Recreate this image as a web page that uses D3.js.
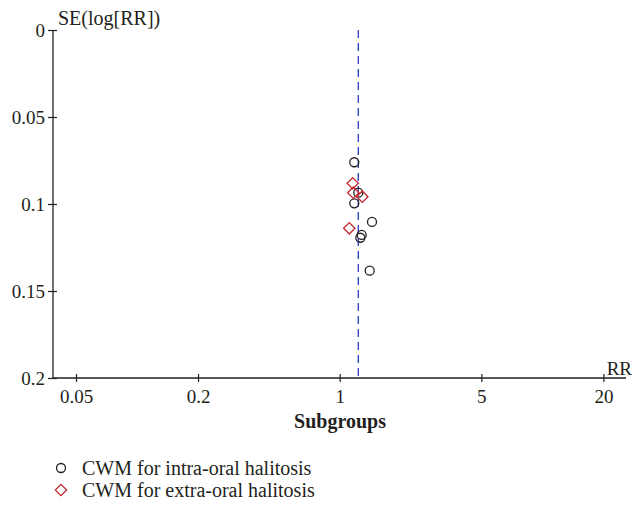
<!DOCTYPE html>
<html>
<head>
    <title>Funnel Plot</title>
    <script src="https://cdnjs.cloudflare.com/ajax/libs/d3/7.8.5/d3.min.js"></script>
    <style>
        html, body {
            margin: 0;
            padding: 0;
            background: #ffffff;
        }
        svg text {
            font-family: "Liberation Serif", "DejaVu Serif", serif;
            fill: #231f20;
        }
    </style>
</head>
<body>
    <div id="chart"></div>
    <script>
        // subgroup 1: CWM for intra-oral halitosis
        const intraRR = [1.18, 1.235, 1.18, 1.443, 1.284, 1.264, 1.406];
        const intraSE = [0.0760, 0.0935, 0.0996, 0.1103, 0.1178, 0.1194, 0.1383];
        // subgroup 2: CWM for extra-oral halitosis
        const extraRR = [1.159, 1.167, 1.293, 1.115];
        const extraSE = [0.0881, 0.0935, 0.0958, 0.1140];
        // pooled estimate
        const pooledRR = 1.235;

        const xTicks = [0.05, 0.2, 1, 5, 20];
        const yTicks = [0, 0.05, 0.1, 0.15, 0.2];
        const legendLabels = ["CWM for intra-oral halitosis", "CWM for extra-oral halitosis"];

        const width = 635, height = 508;
        const axisColor = "#231f20";

        const svg = d3.select("#chart")
            .append("svg")
            .attr("width", width)
            .attr("height", height);

        const x = d3.scaleLog()
            .domain([0.05, 20])
            .range([76, 603.4]);

        const y = d3.scaleLinear()
            .domain([0, 0.2])
            .range([30, 378]);

        const axisLeftX = 53;
        const axisRightX = 626;

        // x axis
        const xAxis = d3.axisBottom(x)
            .tickValues(xTicks)
            .tickFormat(d => String(d))
            .tickSize(4);

        const gx = svg.append("g")
            .attr("transform", "translate(0," + y(0.2) + ")")
            .call(xAxis);
        gx.select(".domain").remove();
        gx.selectAll(".tick line")
            .attr("y1", -4).attr("y2", 4)
            .attr("stroke", axisColor).attr("stroke-width", 1.2);
        gx.selectAll(".tick text")
            .attr("y", 12)
            .style("font-size", "19px");
        gx.append("line")
            .attr("x1", axisLeftX).attr("x2", axisRightX)
            .attr("stroke", axisColor).attr("stroke-width", 1.3);

        // y axis
        const yAxis = d3.axisLeft(y)
            .tickValues(yTicks)
            .tickFormat(d => String(d))
            .tickSize(5);

        const gy = svg.append("g")
            .attr("transform", "translate(" + axisLeftX + ",0)")
            .call(yAxis);
        gy.select(".domain").remove();
        gy.selectAll(".tick line")
            .attr("x1", -5).attr("x2", 4)
            .attr("stroke", axisColor).attr("stroke-width", 1.2);
        gy.selectAll(".tick text")
            .attr("x", -8)
            .style("font-size", "19px");
        gy.append("line")
            .attr("y1", y(0)).attr("y2", y(0.2))
            .attr("stroke", axisColor).attr("stroke-width", 1.3);

        svg.selectAll(".tick text").attr("fill", axisColor);

        svg.append("text")
            .attr("x", 58)
            .attr("y", 25)
            .style("font-size", "20px")
            .text("SE(log[RR])");

        svg.append("text")
            .attr("x", 632)
            .attr("y", 375)
            .attr("text-anchor", "end")
            .style("font-size", "19px")
            .text("RR");

        svg.append("text")
            .attr("x", 340)
            .attr("y", 428)
            .attr("text-anchor", "middle")
            .style("font-size", "20px")
            .style("font-weight", "bold")
            .text("Subgroups");

        // pooled line
        svg.append("line")
            .attr("x1", x(pooledRR)).attr("x2", x(pooledRR))
            .attr("y1", y(0)).attr("y2", y(0.2))
            .attr("stroke", "#2a3cc0")
            .attr("stroke-width", 1.3)
            .attr("stroke-dasharray", "8,5");

        const intra = intraRR.map((d, i) => ({ rr: d, se: intraSE[i] }));
        const extra = extraRR.map((d, i) => ({ rr: d, se: extraSE[i] }));

        svg.selectAll("circle.intra")
            .data(intra)
            .enter()
            .append("circle")
            .attr("class", "intra")
            .attr("cx", d => x(d.rr))
            .attr("cy", d => y(d.se))
            .attr("r", 4.5)
            .attr("fill", "none")
            .attr("stroke", "#231f20")
            .attr("stroke-width", 1.3);

        const diamond = d3.symbol().type(d3.symbolSquare).size(64);

        svg.selectAll("path.extra")
            .data(extra)
            .enter()
            .append("path")
            .attr("class", "extra")
            .attr("d", diamond)
            .attr("transform", d => "translate(" + x(d.rr) + "," + y(d.se) + ") rotate(45)")
            .attr("fill", "none")
            .attr("stroke", "#c1272d")
            .attr("stroke-width", 1.3);

        // legend
        const legend = svg.append("g");
        const rowY = [468, 490];

        legend.append("circle")
            .attr("cx", 61).attr("cy", rowY[0])
            .attr("r", 4.5)
            .attr("fill", "none")
            .attr("stroke", "#231f20")
            .attr("stroke-width", 1.3);

        legend.append("path")
            .attr("d", diamond)
            .attr("transform", "translate(61," + rowY[1] + ") rotate(45)")
            .attr("fill", "none")
            .attr("stroke", "#c1272d")
            .attr("stroke-width", 1.3);

        legend.selectAll("text")
            .data(legendLabels)
            .enter()
            .append("text")
            .attr("x", 82)
            .attr("y", (d, i) => rowY[i])
            .attr("dy", "0.35em")
            .style("font-size", "20px")
            .text(d => d);
    </script>
</body>
</html>
